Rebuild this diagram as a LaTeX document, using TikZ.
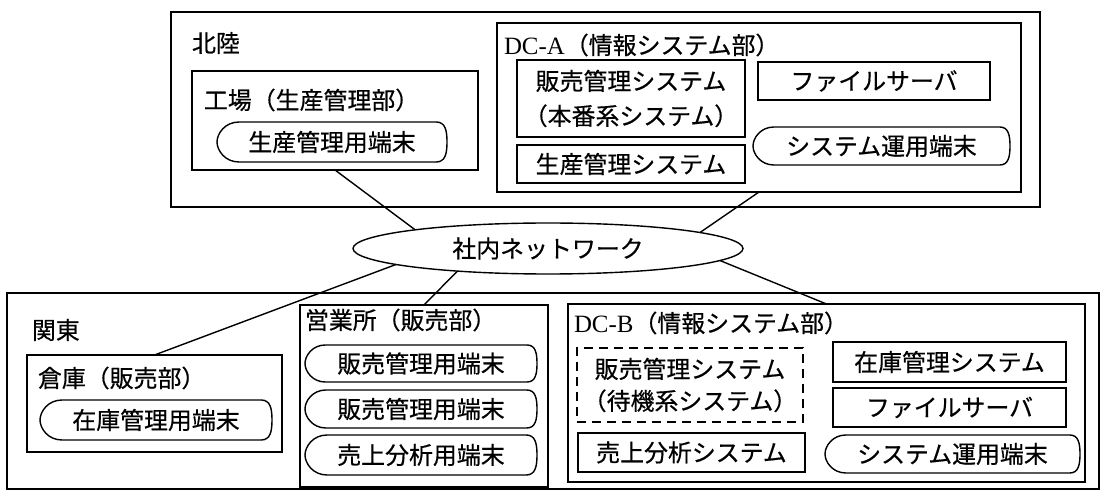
\documentclass[tikz,border=0pt]{standalone}
\usepackage{fontspec}
\setmainfont{Noto Sans CJK JP}[FakeBold=0.5]
\newfontfamily\lat{Liberation Serif}
\usetikzlibrary{shapes.geometric}
\tikzset{
  frame/.style={draw, line width=1.4bp, inner sep=0pt, outer sep=0pt},
  txt/.style={inner sep=0pt, outer sep=0pt, font=\fontsize{24}{33}\selectfont},
  dashedbox/.style={dash pattern=on 9bp off 6bp},
  link/.style={line width=1.4bp},
  netstyle/.style={ellipse, draw, line width=1.4bp, inner sep=0pt, outer sep=0pt,
    minimum width=390bp, minimum height=51bp, font=\fontsize{24}{27}\selectfont}
}
% box from left/top/right/bottom (pixel coordinates, y down)
\newcommand\bx[7][]{%
  \pgfmathsetmacro\bxcx{(#3+#5)/2}\pgfmathsetmacro\bxcy{(#4+#6)/2}%
  \pgfmathsetmacro\bxw{#5-#3}\pgfmathsetmacro\bxh{#6-#4}%
  \node[frame,txt,align=center,minimum width=\bxw bp,minimum height=\bxh bp,#1] (#2) at (\bxcx,\bxcy) {#7};}
% display (terminal) shape
\newcommand\disp[6]{%
  \pgfmathsetmacro\dcx{(#2+#4)/2}\pgfmathsetmacro\dm{(#3+#5)/2}%
  \pgfmathsetmacro\dw{#4-#2}\pgfmathsetmacro\dh{#5-#3}%
  \pgfmathsetmacro\da{#2+0.55*\dh}\pgfmathsetmacro\db{#4-0.27*\dh}%
  \pgfmathsetmacro\dc{#4-0.04*\dh}\pgfmathsetmacro\dl{#2+0.2*\dh}%
  \pgfmathsetmacro\dmu{\dm-0.28*\dh}\pgfmathsetmacro\dmd{\dm+0.28*\dh}%
  \pgfmathsetmacro\dlu{\dm-0.21*\dh}\pgfmathsetmacro\dld{\dm+0.21*\dh}%
  \pgfmathsetmacro\dlx{#2}%
  \node[txt,minimum width=\dw bp,minimum height=\dh bp] (#1) at (\dcx,\dm) {#6};
  \draw[line width=1.4bp] (\da,#3) -- (\db,#3) .. controls (\dc,#3) and (#4,\dmu) .. (#4,\dm)
    .. controls (#4,\dmd) and (\dc,#5) .. (\db,#5) -- (\da,#5)
    .. controls (\dl,#5) and (\dlx,\dld) .. (#2,\dm)
    .. controls (\dlx,\dlu) and (\dl,#3) .. cycle;}
\begin{document}
\begin{tikzpicture}[x=1bp,y=-1bp]
\useasboundingbox (0,0) rectangle (1103,490);
\fill[white] (0,0) rectangle (1103,490);
% outer regions
\bx{hokuriku}{171}{12}{1040}{207}{}
\bx{kanto}{7}{293}{1099}{489}{}
\node[txt,anchor=west] (lblhokuriku) at (192,43) {北陸};
\node[txt,anchor=west] (lblkanto) at (32,330) {関東};
% factory
\bx{kojo}{192}{71}{478}{170}{}
\node[txt,anchor=west] (lblkojo) at (204,100) {工場（生産管理部）};
\disp{kojoterm}{217}{122}{447}{162}{生産管理用端末}
% DC-A
\bx{dca}{497}{23}{1021}{192}{}
\node[txt,anchor=west] (lbldca) at (504,45) {{\lat\fontsize{25}{30}\selectfont DC-A}（情報システム部）};
\bx[font=\fontsize{24}{35}\selectfont]{dcasales}{517}{60}{745}{137}{販売管理システム\\（本番系システム）}
\bx{dcaprod}{517}{145}{745}{183}{生産管理システム}
\bx{dcafile}{758}{62}{990}{100}{ファイルサーバ}
\disp{dcaterm}{753}{127}{1010}{165}{システム運用端末}
% network
\node[netstyle] (net) at (548,248.5) {社内ネットワーク};
% warehouse
\bx{soko}{27}{355}{282}{452}{}
\node[txt,anchor=west] (lblsoko) at (38,378) {倉庫（販売部）};
\disp{sokoterm}{40}{400}{272}{440}{在庫管理用端末}
% sales office
\bx{eigyo}{300}{305}{548}{487}{}
\node[txt,anchor=west] (lbleigyo) at (305,320) {営業所（販売部）};
\disp{eigyoterma}{305}{345}{537}{382}{販売管理用端末}
\disp{eigyotermb}{305}{390}{537}{428}{販売管理用端末}
\disp{eigyotermc}{305}{435}{537}{475}{売上分析用端末}
% DC-B
\bx{dcb}{568}{304}{1085}{482}{}
\node[txt,anchor=west] (lbldcb) at (574,323) {{\lat\fontsize{25}{30}\selectfont DC-B}（情報システム部）};
\bx[dashedbox,font=\fontsize{24}{32}\selectfont]{dcbsales}{577}{348}{803}{422}{販売管理システム\\（待機系システム）}
\bx{dcbanal}{578}{433}{805}{472}{売上分析システム}
\bx{dcbstock}{833}{342}{1066}{382}{在庫管理システム}
\bx{dcbfile}{833}{388}{1066}{427}{ファイルサーバ}
\disp{dcbterm}{825}{435}{1080}{473}{システム運用端末}
% connectors
\draw[link] (kojo.south) -- (net.172);
\draw[link] (dca.south) -- (net.6);
\draw[link] (soko.north) -- (net.186);
\draw[link] (eigyo.north) -- (net.194);
\draw[link] (dcb.north) -- (net.356);
\end{tikzpicture}
\end{document}
